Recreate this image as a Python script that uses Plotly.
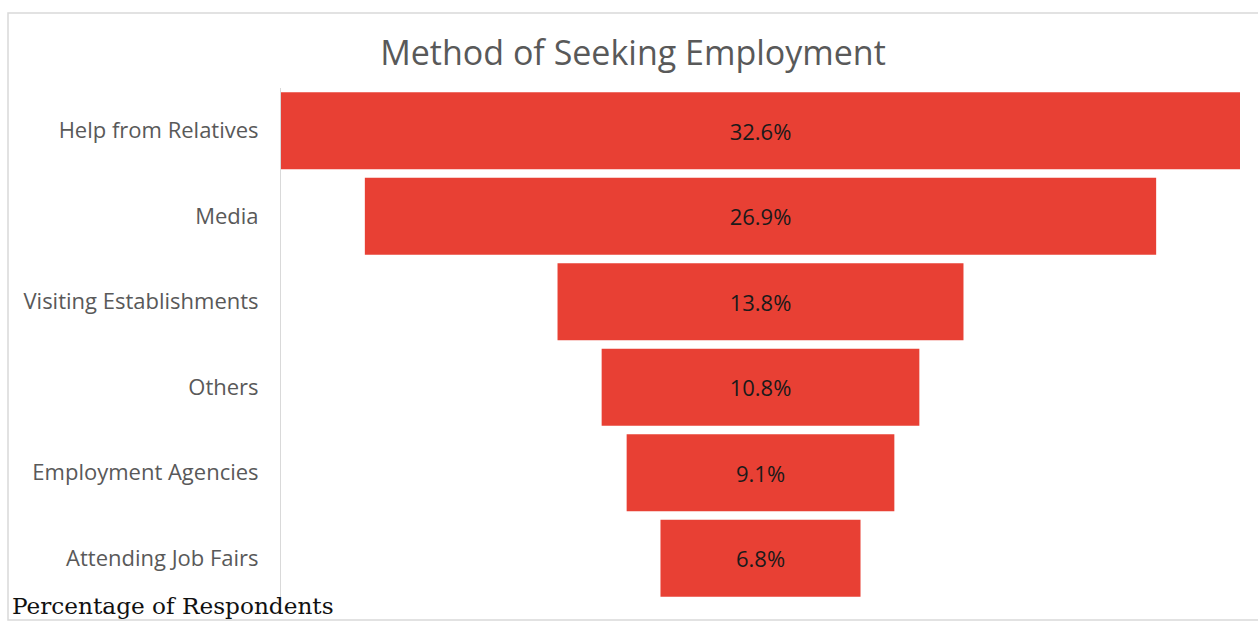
import plotly.graph_objects as go

categories = ["Help from Relatives", "Media", "Visiting Establishments", "Others",
              "Employment Agencies", "Attending Job Fairs"]
values = [32.6, 26.9, 13.8, 10.8, 9.1, 6.8]
title_text = "Method of Seeking Employment"
footer_text = "Percentage of Respondents"

W, H = 1258, 622
L, R, T, B = 281, 18, 88, 21
pw, ph = W - L - R, H - T - B

def px_x(p):
    return (p - L) / pw

def px_y(p):
    return (H - B - p) / ph

fig = go.Figure(go.Funnel(
    y=categories,
    x=values,
    marker=dict(color="#E84034", line=dict(width=0)),
    connector=dict(visible=False),
    texttemplate="%{x:.1f}%",
    textposition="inside",
    insidetextanchor="middle",
    textfont=dict(family="Open Sans", size=22, color="#1a1a1a"),
    hoverinfo="skip",
))

half = max(values) / 2
fig.update_layout(
    width=W, height=H,
    margin=dict(l=L, r=R, t=T, b=B),
    paper_bgcolor="white", plot_bgcolor="white",
    funnelgap=0.1,
    showlegend=False,
    title=dict(text=title_text, x=633 / W, xref="container", xanchor="center",
               y=1 - 53 / H, yref="container", yanchor="middle",
               font=dict(family="Open Sans", size=34, color="#595959")),
    xaxis=dict(visible=False, range=[-half, half]),
    yaxis=dict(range=[len(categories) - 0.5, -0.5], showline=True, linecolor="#d9d9d9",
               linewidth=1, showgrid=False, zeroline=False, ticks="",
               ticklabelstandoff=17,
               tickfont=dict(family="Open Sans", size=22, color="#595959")),
    shapes=[dict(type="rect", xref="paper", yref="paper",
                 x0=px_x(8), x1=px_x(1264), y0=px_y(620), y1=px_y(13),
                 line=dict(color="#d9d9d9", width=1.5), fillcolor="rgba(0,0,0,0)",
                 layer="below")],
    annotations=[dict(text=footer_text, xref="paper", yref="paper",
                      x=px_x(10), y=px_y(621), xanchor="left", yanchor="bottom",
                      showarrow=False,
                      font=dict(family="DejaVu Serif", size=23.2, color="#111111"))],
)

fig.write_html("out.html")
